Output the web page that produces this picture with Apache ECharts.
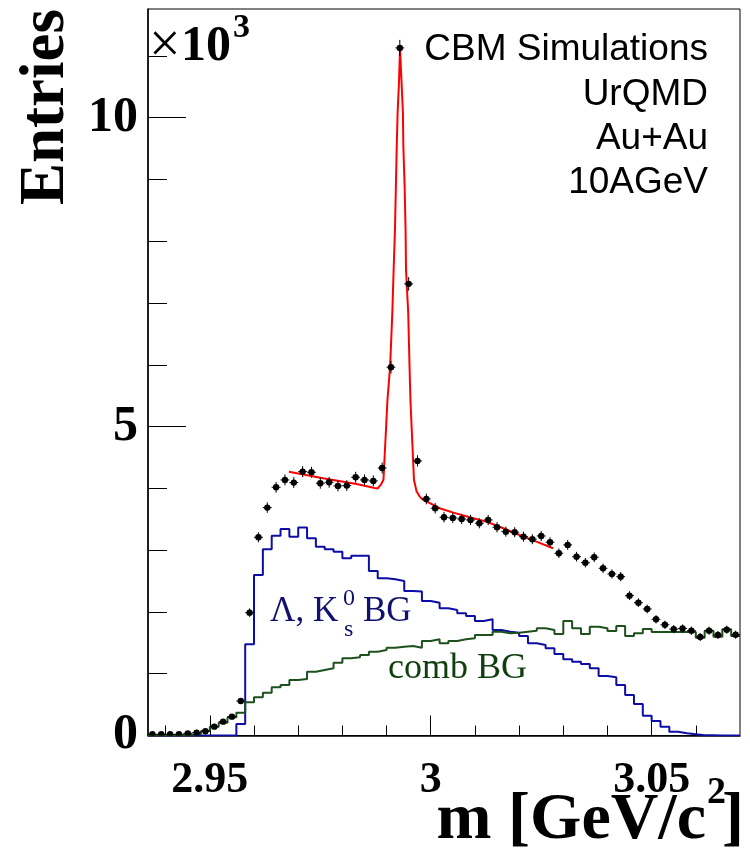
<!DOCTYPE html>
<html><head><meta charset="utf-8">
<script src="https://cdn.jsdelivr.net/npm/echarts@6/dist/echarts.min.js"></script>
<style>html,body{margin:0;padding:0;background:#fff}#c{width:750px;height:855px}</style>
</head><body><div id="c"></div>
<script>
// Histogram binning (GeV/c^2)
const binLow = 2.936;
const binWidth = 0.002;
// Data points (entries per bin)
const dataCounts = [20,20,20,20,35,46,70,143,224,305,558,1989,3209,3689,4018,4137,4094,4272,4261,4083,4099,4040,4045,4180,4137,4121,4330,5962,11130,7311,4445,3829,3679,3533,3522,3505,3489,3436,3489,3371,3300,3290,3219,3177,3230,3128,2950,3085,2895,2798,2885,2707,2615,2571,2264,2150,2048,1881,1792,1722,1732,1697,1595,1697,1627,1713,1632];
// Lambda, K0s background histogram
const lambdaK0BG = [0,0,0,0,0,0,0,0,0,0,186,1476,2599,3015,3235,3344,3219,3365,3192,3057,3015,2976,2869,2911,2911,2663,2545,2529,2502,2340,2329,2178,2150,2059,2032,1978,1935,1854,1881,1708,1681,1665,1611,1493,1465,1412,1320,1234,1195,1158,1088,963,942,818,656,510,321,235,143,62,35,19,5,3,0,0,0];
// Combinatorial background histogram
const combBG = [3,3,5,8,12,25,73,143,207,294,370,537,620,693,780,818,899,915,1033,1061,1088,1179,1250,1266,1303,1357,1384,1422,1438,1449,1420,1530,1557,1493,1530,1557,1573,1627,1627,1681,1655,1665,1681,1697,1735,1708,1643,1854,1735,1643,1762,1735,1690,1773,1611,1655,1724,1676,1676,1676,1676,1676,1584,1697,1600,1719,1611];
// Fit curve
const fitX = [2.9679,2.9756,2.9832,2.9873,2.9880,2.9887,2.9893,2.9902,2.9908,2.9913,2.9916,2.9919,2.9921,2.9923,2.9925,2.9928,2.99305,2.9934,2.9937,2.9938,2.9941,2.9943,2.9944,2.9949,2.9952,2.9954,2.9962,2.9968,2.9975,2.9983,2.9998,3.0020,3.0051,3.0088,3.0126,3.0164,3.0201,3.0239,3.0277];
const fitY = [4270,4165,4070,4005,4000,4060,4140,5430,5970,6840,7540,8190,8860,9530,10080,10560,11110,10560,10080,9530,8860,8190,7540,6840,5970,5430,4140,3950,3867,3813,3760,3679,3608,3533,3462,3355,3246,3138,3031];
// Axis ticks
const xMajorTicks = [2.95, 3.00, 3.05];
const xMinorTicks = [2.94,2.95,2.96,2.97,2.98,2.99,3.00,3.01,3.02,3.03,3.04,3.05,3.06];
const yMajorTicks = [0, 5000, 10000];
const yMinorTicks = [0,1000,2000,3000,4000,5000,6000,7000,8000,9000,10000,11000];
const xMin = 2.936, xMax = 3.07, yMin = 0, yMax = 11760;

const r6 = v => Math.round(v * 1e6) / 1e6;
const nBins = dataCounts.length;
const edgeSeries = arr => {
  const out = arr.map((v, i) => [r6(binLow + i * binWidth), v]);
  out.push([r6(binLow + nBins * binWidth), arr[nBins - 1]]);
  return out;
};
const pointData = dataCounts.map((v, i) => [r6(binLow + (i + 0.5) * binWidth), v]);
const fitData = fitX.map((x, i) => [x, fitY[i]]);

const serif = '"Liberation Serif", "Times New Roman", serif';
const sans = '"Liberation Sans", Arial, sans-serif';

const chart = echarts.init(document.getElementById('c'), null, {renderer: 'canvas'});
chart.setOption({
  animation: false,
  backgroundColor: '#fff',
  grid: {left: 148, right: 10, top: 9, bottom: 119.5, show: true, borderColor: '#000', borderWidth: 1, backgroundColor: 'transparent'},
  xAxis: [
    {type: 'value', min: xMin, max: xMax, position: 'bottom',
     axisLine: {show: true, onZero: false, lineStyle: {color: '#000', width: 1.5}},
     axisTick: {show: true, inside: true, length: 10, customValues: xMinorTicks, lineStyle: {color: '#000', width: 1}},
     axisLabel: {show: false}, splitLine: {show: false}},
    {type: 'value', min: xMin, max: xMax, position: 'bottom',
     axisLine: {show: false, onZero: false},
     axisTick: {show: true, inside: true, length: 20, customValues: xMajorTicks, lineStyle: {color: '#000', width: 1}},
     axisLabel: {show: true, customValues: xMajorTicks, margin: 23, color: '#000', fontFamily: serif, fontWeight: 'bold', fontSize: 44,
       formatter: v => (Math.abs(v - 3) < 1e-9 ? '3' : String(Math.round(v * 100) / 100))},
     splitLine: {show: false}}
  ],
  yAxis: [
    {type: 'value', min: yMin, max: yMax, position: 'left',
     axisLine: {show: true, onZero: false, lineStyle: {color: '#000', width: 1.5}},
     axisTick: {show: true, inside: true, length: 19, customValues: yMinorTicks, lineStyle: {color: '#000', width: 1}},
     axisLabel: {show: false}, splitLine: {show: false}},
    {type: 'value', min: yMin, max: yMax, position: 'left',
     axisLine: {show: false, onZero: false},
     axisTick: {show: true, inside: true, length: 38, customValues: yMajorTicks, lineStyle: {color: '#000', width: 1}},
     axisLabel: {show: true, customValues: yMajorTicks, margin: 10, color: '#000', fontFamily: serif, fontWeight: 'bold', fontSize: 50,
       formatter: v => String(v / 1000)},
     splitLine: {show: false}}
  ],
  series: [
    {type: 'line', name: 'Lambda, K0s BG', data: edgeSeries(lambdaK0BG), step: 'end', symbol: 'none',
     lineStyle: {color: '#0d0da6', width: 2}, z: 2},
    {type: 'line', name: 'comb BG', data: edgeSeries(combBG), step: 'end', symbol: 'none',
     lineStyle: {color: '#1d501d', width: 2}, z: 2},
    {type: 'line', name: 'fit', data: fitData, symbol: 'none', smooth: false,
     lineStyle: {color: '#ff0000', width: 2}, z: 3},
    {type: 'custom', name: 'data', data: pointData, encode: {x: 0, y: 1}, z: 4, clip: true,
     renderItem: (params, api) => {
       const x = api.value(0), y = api.value(1);
       const c = api.coord([x, y]);
       const l = api.coord([x - binWidth / 2, y]);
       const r = api.coord([x + binWidth / 2, y]);
       const e = Math.sqrt(y);
       const t = api.coord([x, y + e]);
       const b = api.coord([x, y - e]);
       return {type: 'group', children: [
         {type: 'line', shape: {x1: l[0], y1: c[1], x2: r[0], y2: c[1]}, style: {stroke: '#000', lineWidth: 1}},
         {type: 'line', shape: {x1: c[0], y1: t[1] - 1.5, x2: c[0], y2: b[1] + 1.5}, style: {stroke: '#000', lineWidth: 1}},
         {type: 'circle', shape: {cx: c[0], cy: c[1], r: 3.2}, style: {fill: '#000'}}
       ]};
     }}
  ],
  graphic: [
    {type: 'text', x: 47, y: 107, rotation: Math.PI / 2,
     style: {text: 'Entries', font: 'bold 63px ' + serif, fill: '#000', align: 'center', verticalAlign: 'middle'}},
    {type: 'text', x: 706, y: 821,
     style: {text: 'm [GeV/c', font: 'bold 66px ' + serif, fill: '#000', align: 'right', verticalAlign: 'middle'}},
    {type: 'text', x: 707, y: 793,
     style: {text: '2', font: 'bold 38px ' + serif, fill: '#000', align: 'left', verticalAlign: 'middle'}},
    {type: 'text', x: 722, y: 821,
     style: {text: ']', font: 'bold 66px ' + serif, fill: '#000', align: 'left', verticalAlign: 'middle'}},
    {type: 'text', x: 149, y: 47,
     style: {text: '×', font: '56px ' + serif, fill: '#000', align: 'left', verticalAlign: 'middle'}},
    {type: 'text', x: 181, y: 47,
     style: {text: '10', font: 'bold 50px ' + serif, fill: '#000', align: 'left', verticalAlign: 'middle'}},
    {type: 'text', x: 233, y: 28,
     style: {text: '3', font: 'bold 34px ' + serif, fill: '#000', align: 'left', verticalAlign: 'middle'}},
    {type: 'text', x: 708, y: 50,
     style: {text: 'CBM Simulations', font: '37px ' + sans, fill: '#000', align: 'right', verticalAlign: 'middle'}},
    {type: 'text', x: 708, y: 95,
     style: {text: 'UrQMD', font: '37px ' + sans, fill: '#000', align: 'right', verticalAlign: 'middle'}},
    {type: 'text', x: 708, y: 139,
     style: {text: 'Au+Au', font: '37px ' + sans, fill: '#000', align: 'right', verticalAlign: 'middle'}},
    {type: 'text', x: 708, y: 183,
     style: {text: '10AGeV', font: '37px ' + sans, fill: '#000', align: 'right', verticalAlign: 'middle'}},
    {type: 'text', x: 270, y: 612,
     style: {text: 'Λ, K', font: '35px ' + serif, fill: '#10106e', align: 'left', verticalAlign: 'middle'}},
    {type: 'text', x: 343, y: 599,
     style: {text: '0', font: '24px ' + serif, fill: '#10106e', align: 'left', verticalAlign: 'middle'}},
    {type: 'text', x: 344, y: 630,
     style: {text: 's', font: '24px ' + serif, fill: '#10106e', align: 'left', verticalAlign: 'middle'}},
    {type: 'text', x: 363, y: 612,
     style: {text: 'BG', font: '35px ' + serif, fill: '#10106e', align: 'left', verticalAlign: 'middle'}},
    {type: 'text', x: 527, y: 669,
     style: {text: 'comb BG', font: '36px ' + serif, fill: '#0f3f0f', align: 'right', verticalAlign: 'middle'}}
  ]
});
</script></body></html>
